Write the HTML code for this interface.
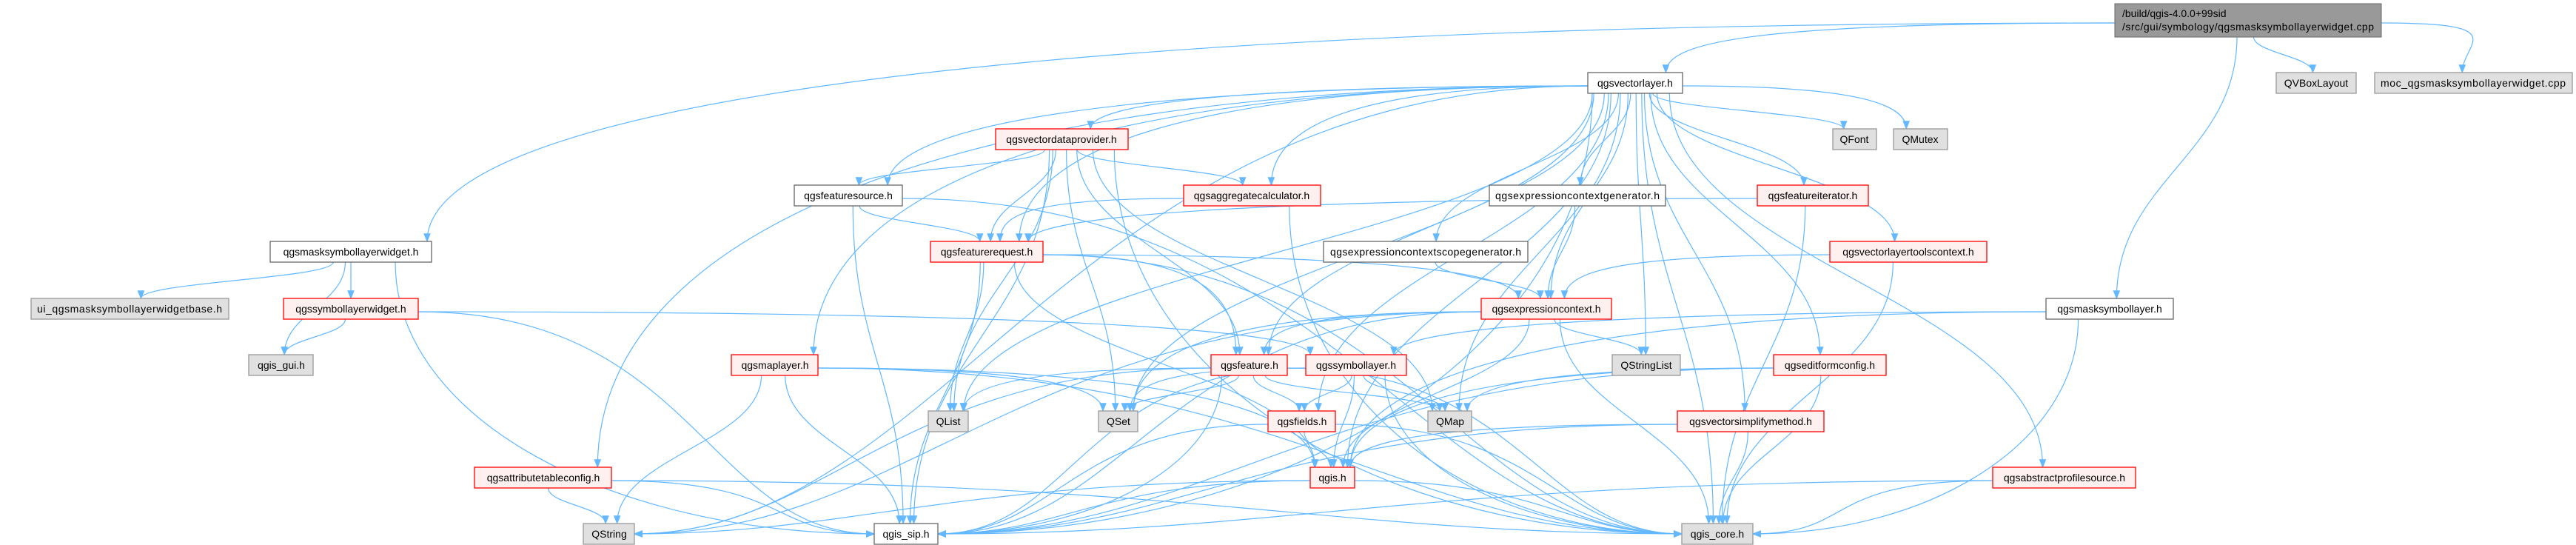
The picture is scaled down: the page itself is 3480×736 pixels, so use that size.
<!DOCTYPE html>
<html><head><meta charset="utf-8"><style>
html,body{margin:0;padding:0;background:#fff;width:3480px;height:736px;overflow:hidden}
svg{display:block}
text{font-family:"Liberation Sans",sans-serif;font-size:14px;fill:#000}
</style></head><body>
<svg id="g" width="3480" height="736" xmlns="http://www.w3.org/2000/svg">
<defs>
<marker id="b" viewBox="0 0 10 10" refX="9" refY="5" markerWidth="12" markerHeight="12" orient="auto" markerUnits="userSpaceOnUse"><path d="M0,1 L10,5 L0,9 z" fill="#63b8ff"/></marker></defs>
<g id="edges" fill="none" stroke="#63b8ff" stroke-width="1.2"></g>
<g id="nodes">
<rect x="2857" y="5" width="360" height="45" fill="#999" stroke="#666"/>
<text x="2867" y="23">/build/qgis-4.0.0+99sid</text>
<text x="2867" y="41" textLength="340">/src/gui/symbology/qgsmasksymbollayerwidget.cpp</text>
</g>
</svg>
<script>
var N={
vl:[2145,2273,112,'w'],
vbox:[3075,3183,112,'g'],
moc:[3208,3475,112,'g'],
vdp:[1345,1524,188,'r'],
font:[2476,2535,188,'g'],
mutex:[2558,2631,188,'g'],
fsrc:[1073,1219,264,'w'],
agg:[1599,1784,264,'r'],
ecg:[2012,2250,264,'w'],
fit:[2374,2524,264,'r'],
msw:[365,583,340,'w'],
freq:[1257,1409,340,'r'],
ecsg:[1788,2064,340,'w'],
vltc:[2472,2684,340,'r'],
ui:[42,309,417,'g'],
slw:[383,565,417,'r'],
ec:[2001,2177,417,'r'],
msl:[2764,2936,417,'w'],
gui:[336,423,493,'g'],
ml:[988,1105,493,'r'],
feat:[1636,1739,493,'r'],
sl:[1764,1900,493,'r'],
sll:[2178,2270,493,'g'],
efc:[2396,2548,493,'r'],
qlist:[1254,1308,569,'g'],
qset:[1484,1537,569,'g'],
fields:[1713,1804,569,'r'],
qmap:[1929,1988,569,'g'],
vsm:[2266,2464,569,'r'],
atc:[641,826,645,'r'],
qgis:[1770,1830,645,'r'],
aps:[2692,2885,645,'r'],
qstr:[788,857,721,'g'],
sip:[1181,1267,721,'w'],
core:[2272,2368,721,'g']
};
N.top=[2857,3217,27,'t'];
var E={
top:['vl','msw','msl','vbox','moc'],
msw:['ui','gui','slw','sip'],
slw:['gui','sip','sl'],
vl:['qstr','ml','atc','fsrc','vdp','freq','qlist','qset','agg','feat','ecsg','ecg','ec','qmap','qgis','sll','fields','font','mutex','fit','vltc','efc','vsm','aps','core','sip'],
vdp:['fsrc','freq','agg','qlist','qset','feat','qmap','core','sip'],
fsrc:['freq','core','sip'],
agg:['freq','core'],
freq:['ec','feat','qlist','qgis','core','sip'],
fit:['freq','core'],
ecg:['ec'],ecsg:['ec'],vltc:['ec','core'],
ec:['sll','feat','qset','qgis','core','sip','qstr'],
feat:['qlist','qset','fields','qmap','core','sip','qstr'],
sl:['qset','fields','qmap','qgis','core','sip'],
fields:['qgis','core','sip'],
qgis:['qstr','core','sip'],
ml:['qstr','qset','qgis','core','sip'],
atc:['qstr','core','sip'],
msl:['sl','qgis','core'],
efc:['qmap','qgis','core','sip'],
vsm:['qgis','core','sip'],
aps:['core','sip']
};
var ns='http://www.w3.org/2000/svg';
var eg=document.getElementById('edges'),ng=document.getElementById('nodes');
function h(k){return k=='top'?45:28}
for(var s in E){E[s].forEach(function(t){
 var A=N[s],B=N[t];
 var sc=(A[0]+A[1])/2, tc=(B[0]+B[1])/2;
 var sy=A[2]+h(s)/2, ty=B[2]-14;
 var sx=Math.max(A[0]+6,Math.min(A[1]-6,sc+(tc-sc)*0.08));
 var tx=Math.max(B[0]+6,Math.min(B[1]-6,tc+(sc-tc)*0.05));
 var d;
 var dy=ty-sy;
 var dx=tc-sc;
 if(Math.abs(dx)>2.2*(B[2]-A[2]) && Math.abs(dx)>300){
   // leave from side
   sx=dx<0?A[0]:A[1]; sy=A[2]+4;
   if(B[2]==721 && Math.abs(dx)>260){
     tx=dx<0?B[1]:B[0]; ty=B[2];
     d='M'+sx+','+sy+' C'+(sx+dx*0.5)+','+sy+' '+(tx-dx*0.3)+','+ty+' '+tx+','+ty;
   } else {
     d='M'+sx+','+sy+' C'+(sx+dx*0.6)+','+sy+' '+tx+','+(ty-(ty-sy)*0.6)+' '+tx+','+ty;
   }
 } else if(Math.abs(dx)>260 && dy>120 && B[2]==721){
   var left=sc<tc; tx=left?B[0]:B[1]; ty=B[2];
   d='M'+sx+','+sy+' C'+sx+','+(sy+dy*0.6)+' '+(tx+(sc-tx)*0.5)+','+ty+' '+tx+','+ty;
 } else {
   d='M'+sx+','+sy+' C'+sx+','+(sy+dy*0.45)+' '+tx+','+(ty-dy*0.45)+' '+tx+','+ty;
 }
 var p=document.createElementNS(ns,'path');p.setAttribute('d',d);p.setAttribute('marker-end','url(#b)');eg.appendChild(p);
});}
var col={w:['#fff','#666'],g:['#e0e0e0','#999'],r:['#fff0f0','#ff0000']};
for(var k in N){if(k=='top')continue;var n=N[k],c=col[n[3]];
 var r=document.createElementNS(ns,'rect');r.setAttribute('x',n[0]);r.setAttribute('y',n[2]-14);r.setAttribute('width',n[1]-n[0]);r.setAttribute('height',28);r.setAttribute('fill',c[0]);r.setAttribute('stroke',c[1]);r.setAttribute('stroke-width','1.3');ng.appendChild(r);
}
</script>
<svg width="3480" height="736" style="position:absolute;left:0;top:0" xmlns="http://www.w3.org/2000/svg">
<g font-family="Liberation Sans, sans-serif" font-size="14" text-anchor="middle">
<text x="2209" y="117">qgsvectorlayer.h</text>
<text x="3129" y="117">QVBoxLayout</text>
<text x="3341" y="117" textLength="250">moc_qgsmasksymbollayerwidget.cpp</text>
<text x="1434" y="193">qgsvectordataprovider.h</text>
<text x="2505" y="193">QFont</text>
<text x="2594" y="193">QMutex</text>
<text x="1146" y="269">qgsfeaturesource.h</text>
<text x="1691" y="269">qgsaggregatecalculator.h</text>
<text x="2131" y="269" textLength="222">qgsexpressioncontextgenerator.h</text>
<text x="2449" y="269">qgsfeatureiterator.h</text>
<text x="474" y="345">qgsmasksymbollayerwidget.h</text>
<text x="1333" y="345">qgsfeaturerequest.h</text>
<text x="1926" y="345" textLength="258">qgsexpressioncontextscopegenerator.h</text>
<text x="2578" y="345">qgsvectorlayertoolscontext.h</text>
<text x="175" y="422" textLength="250">ui_qgsmasksymbollayerwidgetbase.h</text>
<text x="474" y="422">qgssymbollayerwidget.h</text>
<text x="2089" y="422">qgsexpressioncontext.h</text>
<text x="2850" y="422">qgsmasksymbollayer.h</text>
<text x="380" y="498">qgis_gui.h</text>
<text x="1047" y="498">qgsmaplayer.h</text>
<text x="1688" y="498">qgsfeature.h</text>
<text x="1832" y="498">qgssymbollayer.h</text>
<text x="2224" y="498">QStringList</text>
<text x="2472" y="498">qgseditformconfig.h</text>
<text x="1281" y="574">QList</text>
<text x="1511" y="574">QSet</text>
<text x="1759" y="574">qgsfields.h</text>
<text x="1959" y="574">QMap</text>
<text x="2365" y="574">qgsvectorsimplifymethod.h</text>
<text x="734" y="650">qgsattributetableconfig.h</text>
<text x="1800" y="650">qgis.h</text>
<text x="2789" y="650">qgsabstractprofilesource.h</text>
<text x="823" y="726">QString</text>
<text x="1224" y="726">qgis_sip.h</text>
<text x="2320" y="726">qgis_core.h</text>
</g></svg>
</body></html>
